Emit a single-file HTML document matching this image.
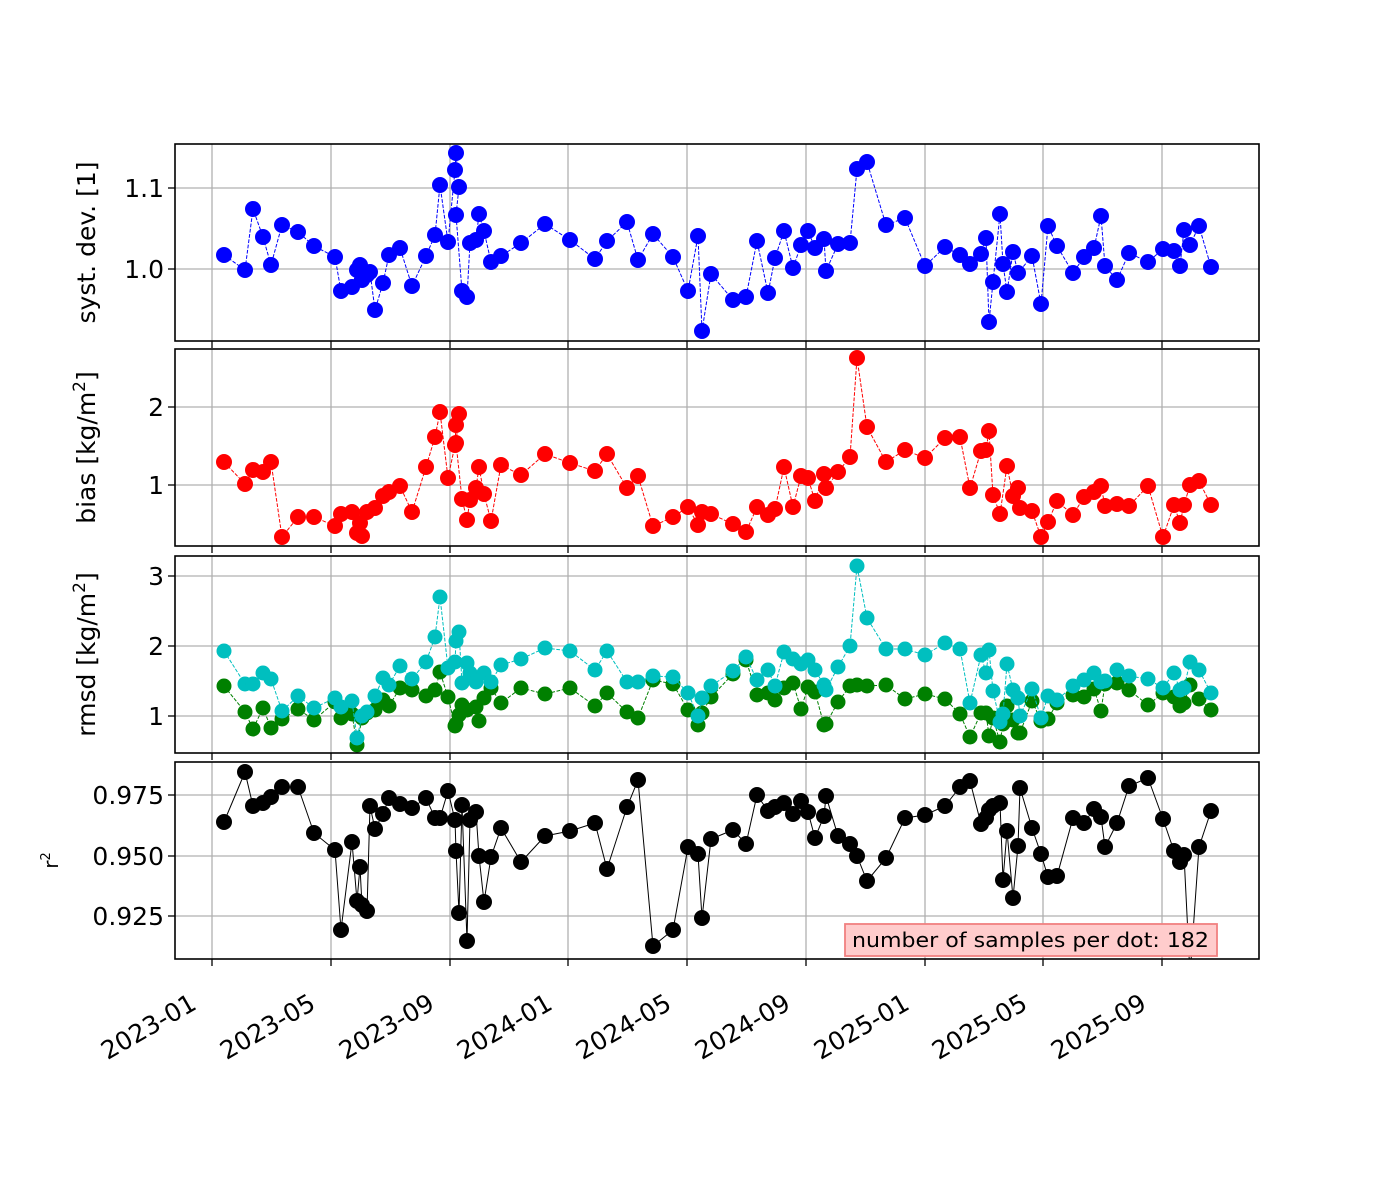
<!DOCTYPE html>
<html><head><meta charset="utf-8"><style>html,body{margin:0;padding:0;background:#fff}svg{display:block;font-family:"DejaVu Sans","Liberation Sans",sans-serif}</style></head>
<body><svg id="s" width="1400" height="1200" xmlns="http://www.w3.org/2000/svg"></svg>
<script>
const X0=175,X1=1259;
const panels=[[144,341],[349,546],[556,753],[762,959]];
const xt=[[212,'2023-01'],[331,'2023-05'],[450,'2023-09'],[568,'2024-01'],[687,'2024-05'],[806,'2024-09'],[925,'2025-01'],[1043,'2025-05'],[1162,'2025-09']];
const yt=[[[188,'1.1'],[269,'1.0']],[[407,'2'],[485,'1']],[[576,'3'],[646,'2'],[716,'1']],[[795,'0.975'],[856,'0.950'],[916,'0.925']]];
const ylab=['syst. dev. [1]','bias [kg/m<tspan dy="-10" font-size="17">2</tspan><tspan dy="10">]</tspan>','rmsd [kg/m<tspan dy="-10" font-size="17">2</tspan><tspan dy="10">]</tspan>','r<tspan dy="-8" font-size="13">2</tspan>'];
function P(s){return s.trim().split(/[;\s]+/).map(t=>t.split(',').map(Number));}
const blue=P(`224,255;245,270;253,209;263,237;271,265;282,225;298,232;314,246;335,257;341,291;352,287;357,270;360,265;362,280;367,275;370,272;375,310;383,283;389,255;400,248;412,286;426,256;435,235;440,185;448,242;455,170;456,153;459,187;456,215;462,291;467,297;470,243;476,240;479,214;484,231;491,262;501,256;521,243;545,224;570,240;595,259;607,241;627,222;638,260;653,234;673,257;688,291;698,236;702,331;711,274;733,300;746,297;757,241;768,293;775,258;784,231;793,268;801,245;808,231;815,248;824,239;826,271;838,244;850,243;857,169;867,162;886,225;905,218;925,266;945,247;960,255;970,264;981,254;986,238;989,322;993,282;1000,214;1003,264;1007,292;1013,252;1018,273;1032,256;1041,304;1048,226;1057,246;1073,273;1084,257;1094,248;1101,216;1105,266;1117,280;1129,253;1148,262;1163,249;1174,251;1180,266;1184,230;1190,245;1199,226;1211,267`);
const red=P(`224,462;245,484;253,470;263,472;271,462;282,537;298,517;314,517;335,526;341,514;352,512;357,533;360,523;362,536;367,512;375,508;383,496;389,492;400,486;412,512;426,467;435,437;440,412;448,478;455,445;456,425;459,414;456,443;462,499;467,520;470,500;476,488;479,467;484,494;491,521;501,465;521,475;545,454;570,463;595,471;607,454;627,488;638,476;653,526;673,517;688,507;698,525;702,512;711,514;733,524;746,532;757,507;768,515;775,509;784,467;793,507;801,476;808,478;815,501;824,474;826,488;838,472;850,457;857,358;867,427;886,462;905,450;925,458;945,438;960,437;970,488;981,451;986,450;989,431;993,495;1000,514;1007,466;1013,496;1018,488;1020,508;1032,511;1041,537;1048,522;1057,501;1073,515;1084,497;1094,492;1101,486;1105,506;1117,504;1129,506;1148,486;1163,537;1174,505;1180,523;1184,505;1190,485;1199,481;1211,505`);
const cyan=P(`224,651;245,684;253,684;263,673;271,679;282,711;298,696;314,708;335,698;341,707;352,701;357,738;362,716;367,712;375,696;383,678;389,685;400,666;412,679;426,662;435,637;440,597;448,668;455,662;456,641;459,632;462,683;467,663;470,673;476,682;484,673;491,682;501,665;521,659;545,648;570,651;595,670;607,651;627,682;638,682;653,676;673,677;688,693;698,716;702,698;711,686;733,671;746,657;757,680;768,670;775,686;784,652;793,659;801,664;808,660;815,670;824,685;826,690;838,667;850,646;857,566;867,618;886,649;905,649;925,655;945,643;960,649;970,703;981,655;986,673;989,650;993,691;1000,722;1003,714;1007,664;1013,690;1018,698;1020,716;1032,689;1041,718;1048,696;1057,700;1073,686;1084,680;1094,673;1101,682;1105,681;1117,670;1129,676;1148,679;1163,688;1174,673;1180,690;1184,688;1190,662;1199,670;1211,693`);
const green=P(`224,686;245,712;253,729;263,708;271,728;282,719;298,709;314,720;335,702;341,718;352,714;357,745;362,718;367,713;375,710;383,700;389,706;400,688;412,690;426,696;435,690;440,672;448,697;455,726;456,724;459,715;462,705;467,710;476,707;479,721;484,698;491,688;501,703;521,688;545,694;570,688;595,706;607,693;627,712;638,718;653,680;673,684;688,710;698,725;702,713;711,697;733,674;746,660;757,695;768,693;775,700;784,688;793,683;801,709;808,687;815,692;824,725;826,724;838,702;850,686;857,685;867,686;886,685;905,699;925,694;945,699;960,714;970,737;981,713;986,713;989,736;993,718;1000,742;1003,724;1007,706;1013,720;1018,733;1020,733;1032,701;1041,721;1048,719;1057,703;1073,695;1084,697;1094,689;1101,711;1105,684;1117,683;1129,690;1148,705;1163,693;1174,697;1180,706;1184,703;1190,685;1199,699;1211,710`);
const black=P(`224,822;245,772;253,806;263,803;271,797;282,787;298,787;314,833;335,850;341,930;352,842;357,901;360,867;362,905;367,911;370,806;375,829;383,814;389,798;400,804;412,808;426,798;435,818;440,818;448,791;455,820;456,851;459,913;462,805;467,941;470,820;476,812;479,856;484,902;491,857;501,828;521,862;545,836;570,831;595,823;607,869;627,807;638,780;653,946;673,930;688,847;698,854;702,918;711,839;733,830;746,844;757,795;768,811;775,807;784,803;793,814;801,801;808,812;815,838;824,816;826,796;838,836;850,844;857,856;867,881;886,858;905,818;925,815;945,806;960,787;970,781;981,824;986,818;989,810;993,806;1000,803;1003,880;1007,831;1013,898;1018,846;1020,788;1032,828;1041,854;1048,877;1057,876;1073,818;1084,823;1094,809;1101,817;1105,847;1117,823;1129,786;1148,778;1163,819;1174,851;1180,862;1184,855;1190,975;1199,847;1211,811`);
let h='<defs>';
panels.forEach((p,i)=>h+=`<clipPath id="c${i}"><rect x="${X0}" y="${p[0]}" width="${X1-X0}" height="${p[1]-p[0]}"/></clipPath>`);
h+='</defs>';
function series(pts,col,r,dash,ci){let d=pts.map(p=>p.join(',')).join(' ');let s=`<g clip-path="url(#c${ci})"><polyline points="${d}" fill="none" stroke="${col}" stroke-width="1" ${dash?'stroke-dasharray="3.7,1.6"':''}/>`;pts.forEach(p=>s+=`<circle cx="${p[0]}" cy="${p[1]}" r="${r}" fill="${col}"/>`);return s+'</g>';}
panels.forEach((p,i)=>{
 xt.forEach(t=>{h+=`<line x1="${t[0]}" x2="${t[0]}" y1="${p[0]}" y2="${p[1]}" stroke="#b0b0b0" stroke-width="1.3"/><line x1="${t[0]}" x2="${t[0]}" y1="${p[1]}" y2="${p[1]+7}" stroke="#000" stroke-width="1.3"/>`;});
 yt[i].forEach(t=>{h+=`<line x1="${X0}" x2="${X1}" y1="${t[0]}" y2="${t[0]}" stroke="#b0b0b0" stroke-width="1.3"/><line x1="${X0-7}" x2="${X0}" y1="${t[0]}" y2="${t[0]}" stroke="#000" stroke-width="1.3"/><text x="${X0-11}" y="${t[0]+9}" font-size="25" text-anchor="end">${t[1]}</text>`;});
 const cy=(p[0]+p[1])/2;
 h+=`<text transform="translate(${i==3?58:95},${cy}) rotate(-90)" font-size="${i==3?20:25}" text-anchor="middle">${ylab[i]}</text>`;
});
h+=series(blue,'#0000ff',8,1,0)+series(red,'#ff0000',8,1,1)+series(green,'#008000',7.5,1,2)+series(cyan,'#00bfbf',7.5,1,2)+series(black,'#000',8,0,3);
panels.forEach(p=>h+=`<rect x="${X0}" y="${p[0]}" width="${X1-X0}" height="${p[1]-p[0]}" fill="none" stroke="#000" stroke-width="1.6"/>`);
h+=`<rect x="845" y="924" width="372" height="32" fill="#ffcccc" stroke="#f08080" stroke-width="1.8"/><text x="852" y="947" font-size="20" textLength="357" lengthAdjust="spacingAndGlyphs">number of samples per dot: 182</text>`;
xt.forEach(t=>h+=`<text transform="translate(${t[0]-14},1008) rotate(-30)" font-size="25" text-anchor="end">${t[1]}</text>`);
document.getElementById('s').innerHTML=h;
</script></body></html>
